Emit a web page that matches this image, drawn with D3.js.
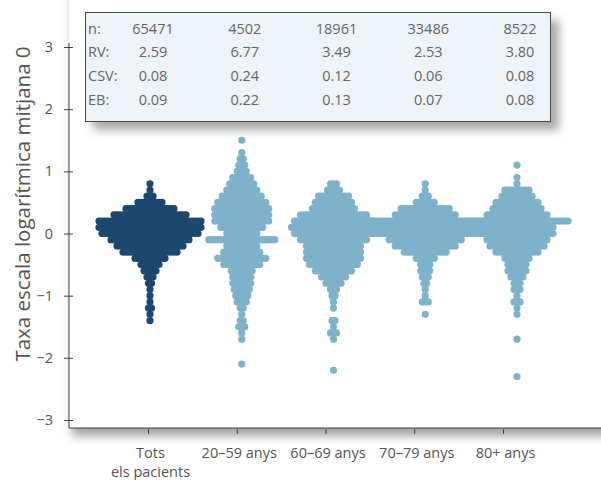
<!DOCTYPE html>
<html>
<head>
<meta charset="utf-8">
<script src="https://cdn.jsdelivr.net/npm/d3@7"></script>
<style>
  body { margin: 0; background: #fff; }
  svg { display: block; font-family: "Open Sans", "Noto Sans", sans-serif; }
</style>
</head>
<body>
<svg id="chart" width="601" height="480"></svg>
<script>
"use strict";

// categories
var groups = ["tots", "20-59", "60-69", "70-79", "80+"];
var groupLabels = [["Tots", "els pacients"], ["20\u201359 anys"], ["60\u201369 anys"], ["70\u201379 anys"], ["80+ anys"]];

// table values
var nValues = [65471, 4502, 18961, 33486, 8522];
var rvValues = [2.59, 6.77, 3.49, 2.53, 3.80];
var csvValues = [0.08, 0.24, 0.12, 0.06, 0.08];
var ebValues = [0.09, 0.22, 0.13, 0.07, 0.08];

var yTicks = [3, 2, 1, 0, -1, -2, -3];

// log-rate bins (centre of each row of dots)
var bins = [1.5, 1.4, 1.3, 1.2, 1.1, 1.0, 0.9, 0.8, 0.7, 0.6, 0.5, 0.4, 0.3, 0.2, 0.1, 0.0,
    -0.1, -0.2, -0.3, -0.4, -0.5, -0.6, -0.7, -0.8, -0.9, -1.0, -1.1, -1.2, -1.3, -1.4,
    -1.5, -1.6, -1.7, -1.8, -1.9, -2.0, -2.1, -2.2, -2.3];

// number of dots in each bin, per group
var countsTots = [0, 0, 0, 0, 0, 0, 0, 1, 1, 3, 9, 17, 25, 35, 35, 33,
    27, 23, 19, 11, 7, 5, 3, 2, 1, 1, 1, 2, 1, 1, 0, 0, 0, 0, 0, 0, 0, 0, 0];
var counts2059 = [1, 0, 1, 2, 3, 4, 7, 9, 11, 14, 17, 19, 19, 19, 15, 11,
    23, 11, 13, 17, 13, 8, 7, 7, 6, 5, 4, 2, 1, 2, 3, 1, 1, 0, 0, 0, 1, 0, 0];
var counts6069 = [0, 0, 0, 0, 0, 0, 0, 3, 5, 11, 13, 15, 23, 27, 29, 27,
    23, 19, 19, 19, 17, 13, 9, 6, 3, 2, 1, 1, 0, 2, 1, 3, 1, 0, 0, 0, 0, 1, 0];
var counts7079 = [0, 0, 0, 0, 0, 0, 0, 1, 1, 3, 7, 17, 21, 45, 45, 45,
    25, 21, 15, 7, 4, 4, 3, 2, 1, 1, 3, 0, 1, 0, 0, 0, 0, 0, 0, 0, 0, 0, 0];
var counts80 = [0, 0, 0, 0, 1, 0, 1, 1, 9, 11, 15, 17, 21, 35, 25, 25,
    21, 19, 15, 9, 7, 7, 5, 3, 3, 1, 3, 1, 1, 0, 0, 0, 1, 0, 0, 0, 0, 0, 1];

var groupCounts = [countsTots, counts2059, counts6069, counts7079, counts80];
var groupColors = ["#1c4870", "#7eb2cb", "#7eb2cb", "#7eb2cb", "#7eb2cb"];

var svg = d3.select("#chart");
var textColor = "#555";
var axisColor = "#444";

var yScale = d3.scaleLinear().domain([-3, 3]).range([420, 47]);
var xTick = d3.scalePoint().domain(groups).range([148, 503]);
var xSwarm = d3.scalePoint().domain(groups).range([150, 517]);
var xOffset = d3.scaleLinear().domain([0, 1]).range([0, 3]);

var axisX = 69, axisY = 428;

// shadows
var defs = svg.append("defs");
var f1 = defs.append("filter").attr("id", "plotShadow")
    .attr("x", "-10%").attr("y", "-10%").attr("width", "130%").attr("height", "130%");
f1.append("feDropShadow").attr("dx", 3).attr("dy", 8).attr("stdDeviation", 5)
    .attr("flood-color", "#8a8a8a").attr("flood-opacity", 0.8);
var f2 = defs.append("filter").attr("id", "boxShadow")
    .attr("x", "-10%").attr("y", "-20%").attr("width", "130%").attr("height", "160%");
f2.append("feDropShadow").attr("dx", 8).attr("dy", 8).attr("stdDeviation", 5)
    .attr("flood-color", "#8a8a8a").attr("flood-opacity", 0.75);

svg.append("rect")
    .attr("x", axisX).attr("y", -30)
    .attr("width", 640).attr("height", axisY + 30)
    .attr("fill", "#fff")
    .attr("filter", "url(#plotShadow)");

// y axis
var yAxis = d3.axisLeft(yScale)
    .tickValues(yTicks)
    .tickFormat(d3.format("d"))
    .tickSize(5)
    .tickPadding(11);

var gy = svg.append("g")
    .attr("transform", "translate(" + axisX + ",0)")
    .call(yAxis);
gy.select(".domain").remove();
gy.selectAll(".tick line").attr("x1", 4).attr("stroke", axisColor);
gy.selectAll(".tick text")
    .attr("fill", textColor)
    .style("font-size", "14.5px")
    .style("font-family", "'Open Sans', 'Noto Sans', sans-serif");

svg.append("line")
    .attr("x1", axisX).attr("x2", axisX)
    .attr("y1", yScale(3) - 4).attr("y2", axisY)
    .attr("stroke", axisColor);

svg.append("line")
    .attr("x1", axisX).attr("x2", 601)
    .attr("y1", axisY).attr("y2", axisY)
    .attr("stroke", axisColor);

// x axis
var xAxis = d3.axisBottom(xTick).tickSize(5).tickFormat("");
var gx = svg.append("g")
    .attr("transform", "translate(0," + (axisY + 1) + ")")
    .call(xAxis);
gx.select(".domain").remove();
gx.selectAll(".tick line").attr("stroke", axisColor);

gx.selectAll(".tick").each(function (d, i) {
    var t = d3.select(this).append("text")
        .attr("text-anchor", "middle")
        .attr("fill", textColor)
        .style("font-size", "14.5px")
        .style("font-family", "'Open Sans', 'Noto Sans', sans-serif");
    groupLabels[i].forEach(function (line, j) {
        t.append("tspan").attr("x", 2).attr("y", 29 + j * 19).text(line);
    });
});

// y axis title
svg.append("text")
    .attr("transform", "translate(30," + 204 + ") rotate(-90)")
    .attr("text-anchor", "middle")
    .attr("fill", textColor)
    .style("font-size", "20.5px")
    .text("Taxa escala logar\u00edtmica mitjana 0");

// swarm dots
var dots = [];
groups.forEach(function (g, gi) {
    groupCounts[gi].forEach(function (c, bi) {
        for (var k = 0; k < c; k++) {
            dots.push({ group: g, gi: gi, value: bins[bi], offset: k - (c - 1) / 2 });
        }
    });
});

svg.append("g")
    .selectAll("circle")
    .data(dots)
    .enter()
    .append("circle")
    .attr("cx", function (d) { return xSwarm(d.group) + xOffset(d.offset); })
    .attr("cy", function (d) { return yScale(d.value); })
    .attr("r", 3.6)
    .attr("fill", function (d) { return groupColors[d.gi]; });

// stats table
var rows = [["n:", nValues, d3.format("d")],
    ["RV:", rvValues, d3.format(".2f")],
    ["CSV:", csvValues, d3.format(".2f")],
    ["EB:", ebValues, d3.format(".2f")]];

var table = svg.append("g");
table.append("rect")
    .attr("x", 85.5).attr("y", 12.5)
    .attr("width", 465).attr("height", 109)
    .attr("fill", "#edf3f6")
    .attr("stroke", "#4a4a4a")
    .attr("filter", "url(#boxShadow)");

rows.forEach(function (r, ri) {
    var yy = 28 + ri * 23.7;
    table.append("text")
        .attr("x", 88).attr("y", yy)
        .attr("dominant-baseline", "central")
        .attr("fill", "#666")
        .style("font-size", "14.5px")
        .text(r[0]);
    r[1].forEach(function (v, i) {
        table.append("text")
            .attr("x", xSwarm(groups[i]) + 3).attr("y", yy)
            .attr("text-anchor", "middle")
            .attr("dominant-baseline", "central")
            .attr("fill", "#666")
            .style("font-size", "14.5px")
            .text(r[2](v));
    });
});
</script>
</body>
</html>
